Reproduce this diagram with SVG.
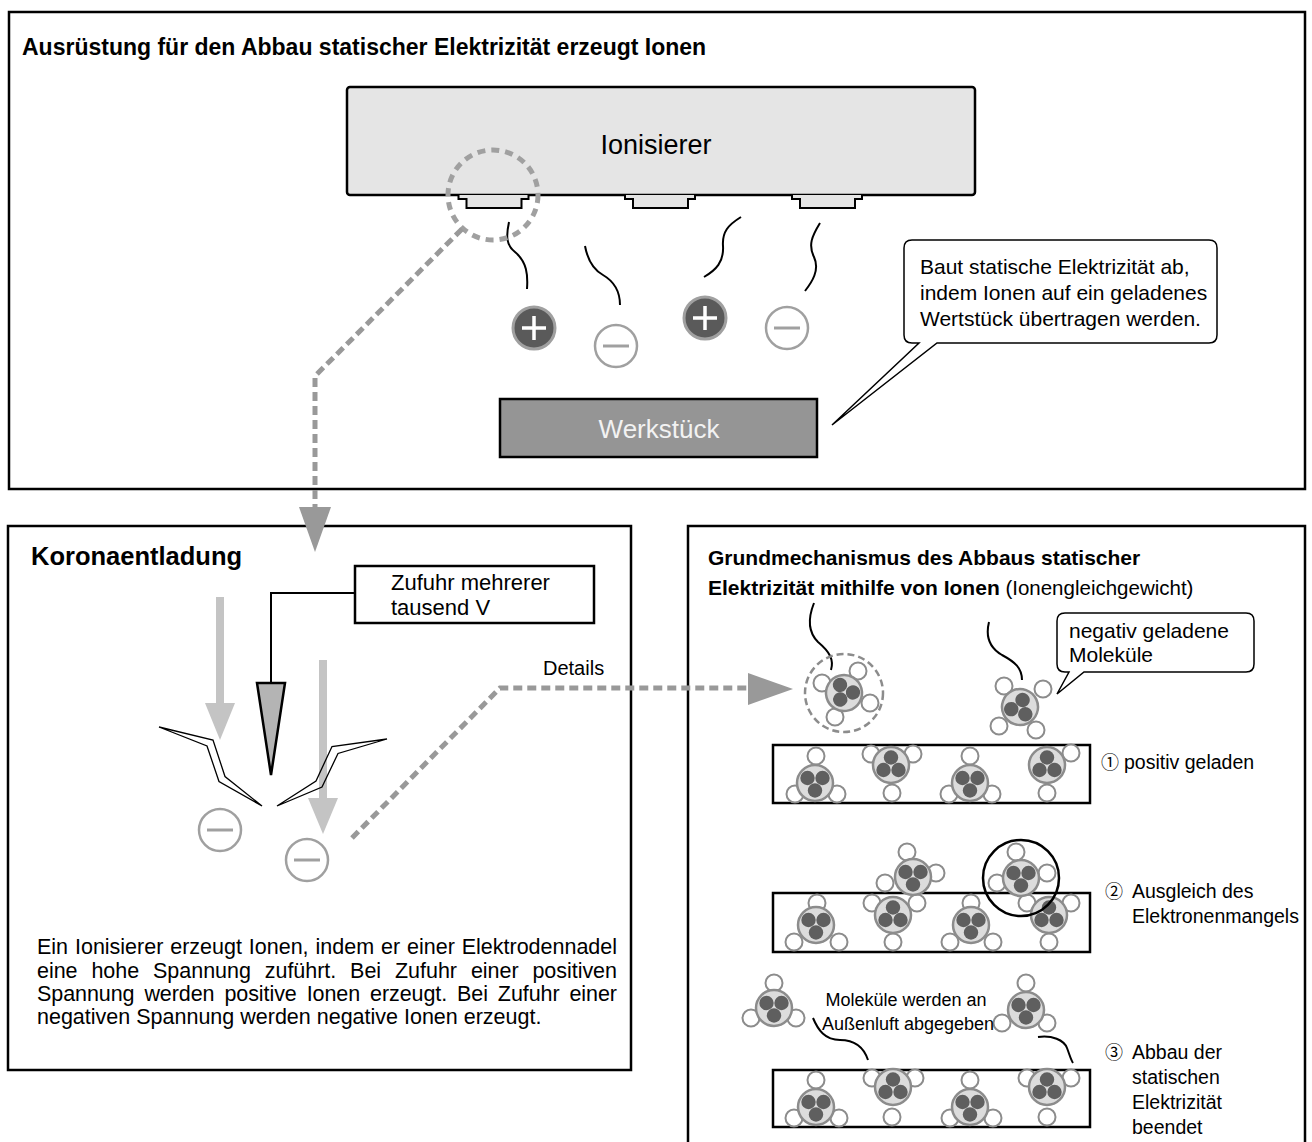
<svg xmlns="http://www.w3.org/2000/svg" width="1312" height="1142" viewBox="0 0 1312 1142">
<defs>
<style>
text{font-family:"Liberation Sans",Arial,Helvetica,sans-serif;fill:#000}
.h{font-weight:bold;font-size:23px}
.hs{font-weight:bold;font-size:21px}
.t{font-size:21px}
.body{font-size:21.5px}
.s{font-size:19.5px}
.xs{font-size:18px}
.num{font-family:"Noto Sans CJK JP","DejaVu Sans",sans-serif;font-size:18px}
.panel{fill:#fff;stroke:#000;stroke-width:2.5}
.box{fill:#fff;stroke:#000;stroke-width:2.5}
.wave{fill:none;stroke:#000;stroke-width:2}
.dash{fill:none;stroke:#999;stroke-width:5;stroke-dasharray:9 5}
.head{fill:#999}
.ionp{fill:#5a5a5a;stroke:#a0a0a0;stroke-width:3}
.ionm{fill:#fff;stroke:#a0a0a0;stroke-width:2.5}
.plus{stroke:#fff;stroke-width:3.5}
.minus{stroke:#a0a0a0;stroke-width:3}
.shell{fill:#dcdcdc;stroke:#8c8c8c;stroke-width:2.5}
.nuc{fill:#5f5f5f}
.el{fill:#fff;stroke:#8c8c8c;stroke-width:2}
.bar{fill:#fff;stroke:#000;stroke-width:2.5}
.bolt{fill:none;stroke:#000;stroke-width:1.3;stroke-linejoin:miter}
.light{fill:#c4c4c4}
.bubble{fill:#fff;stroke:#000;stroke-width:1.5}
.electrode{fill:#e5e5e5;stroke:#000;stroke-width:2}
</style>
<g id="core-a"><circle r="18" class="shell"/><circle cx="-7.5" cy="-5" r="7.2" class="nuc"/><circle cx="7.5" cy="-5" r="7.2" class="nuc"/><circle cx="0" cy="7.5" r="7.2" class="nuc"/></g>
<g id="core-b"><circle r="18" class="shell"/><circle cx="0" cy="-7.5" r="7.2" class="nuc"/><circle cx="-7.5" cy="5" r="7.2" class="nuc"/><circle cx="7.5" cy="5" r="7.2" class="nuc"/></g>
<g id="ion-plus"><circle r="21" class="ionp"/><path d="M-12,0H12M0,-12V12" class="plus"/></g>
<g id="ion-minus"><circle r="21" class="ionm"/><path d="M-13,0H13" class="minus"/></g>
<path id="electrode" d="M-35,195V199H-27V208H28V199H35V195" class="electrode"/>
</defs>

<rect width="1312" height="1142" fill="#fff"/>

<!-- upper panel: ionizer and workpiece -->
<g id="panel-top">
<rect x="9" y="12" width="1296" height="477" class="panel"/>
<text x="22" y="55" class="h">Ausrüstung für den Abbau statischer Elektrizität erzeugt Ionen</text>
</g>

<g id="ionizer">
<rect x="347" y="87" width="628" height="108" rx="3" fill="#e5e5e5" stroke="#000" stroke-width="2.5"/>
<text x="656" y="154" font-size="27" text-anchor="middle">Ionisierer</text>
<use href="#electrode" x="493.5"/>
<use href="#electrode" x="660"/>
<use href="#electrode" x="827"/>
</g>

<g id="ions-top">
<path class="wave" d="M509,222C506,236 506,245 515,252C527,262 528,275 527,289"/>
<path class="wave" d="M585,246C588,262 594,270 603,275C615,282 620,292 620,305"/>
<path class="wave" d="M741,217C728,225 722,232 723,246C724,262 716,270 704,277"/>
<path class="wave" d="M820,223C812,236 808,245 814,257C820,270 812,282 805,291"/>
<use href="#ion-plus" x="534" y="328"/>
<use href="#ion-minus" x="616" y="346"/>
<use href="#ion-plus" x="705" y="318"/>
<use href="#ion-minus" x="787" y="328"/>
</g>

<g id="workpiece">
<rect x="500" y="399" width="317" height="58" fill="#959595" stroke="#000" stroke-width="2.5"/>
<text x="659" y="438" font-size="26" text-anchor="middle" style="fill:#f2f2f2">Werkstück</text>
</g>

<g id="callout-workpiece">
<path class="bubble" d="M912,240H1209Q1217,240 1217,248V335Q1217,343 1209,343H937L832,425L919,343H912Q904,343 904,335V248Q904,240 912,240Z"/>
<text x="920" y="274" class="t">Baut statische Elektrizität ab,</text>
<text x="920" y="300" class="t">indem Ionen auf ein geladenes</text>
<text x="920" y="326" class="t">Wertstück übertragen werden.</text>
</g>

<!-- lower left panel: corona discharge -->
<g id="panel-corona">
<rect x="8" y="526" width="623" height="544" class="panel"/>
<text x="31" y="565" font-weight="bold" font-size="25.5">Koronaentladung</text>
</g>

<g id="supply">
<rect x="355" y="566" width="239" height="57" class="box"/>
<text x="391" y="590" font-size="22">Zufuhr mehrerer</text>
<text x="391" y="615" font-size="22">tausend V</text>
</g>

<g id="needle">
<polyline points="355,593 271,593 271,683" fill="none" stroke="#000" stroke-width="2"/>
<polygon points="257,683 285,683 271,775" fill="#b4b4b4" stroke="#000" stroke-width="2.5"/>
</g>

<g id="discharge">
<rect x="216" y="597" width="8" height="107" class="light"/>
<polygon points="205,703 235,703 220,740" class="light"/>
<polygon class="bolt" points="159,727 213,740 225,776.5 262,806 219,781.5 207,746"/>
<rect x="319" y="660" width="8" height="140" class="light"/>
<polygon points="308,798 338,798 323,834" class="light"/>
<polygon class="bolt" points="387,739 332,746.5 316,781 277,806 322,787 338,753.5"/>
<use href="#ion-minus" x="220" y="830"/>
<use href="#ion-minus" x="307" y="860"/>
</g>

<g id="corona-text">
<text x="37" y="954" class="body" word-spacing="1" textLength="580" lengthAdjust="spacing">Ein Ionisierer erzeugt Ionen, indem er einer Elektrodennadel</text>
<text x="37" y="978" class="body" word-spacing="8" textLength="580" lengthAdjust="spacing">eine hohe Spannung zuführt. Bei Zufuhr einer positiven</text>
<text x="37" y="1001" class="body" word-spacing="4" textLength="580" lengthAdjust="spacing">Spannung werden positive Ionen erzeugt. Bei Zufuhr einer</text>
<text x="37" y="1024" class="body">negativen Spannung werden negative Ionen erzeugt.</text>
</g>

<!-- lower right panel: ion balance mechanism -->
<g id="panel-mechanism">
<rect x="688" y="526" width="617" height="630" class="panel"/>
<text x="708" y="565" class="hs">Grundmechanismus des Abbaus statischer</text>
<text x="708" y="595" class="hs">Elektrizität mithilfe von Ionen<tspan font-weight="normal" font-size="20.5"> (Ionengleichgewicht)</tspan></text>
</g>

<g id="free-molecules">
<path class="wave" d="M814,603C808,618 808,632 818,642C830,652 834,660 831,670"/>
<path class="wave" d="M989,622C985,638 990,648 1002,655C1015,662 1022,668 1022,680"/>
<circle cx="844" cy="693" r="39" fill="none" stroke="#8c8c8c" stroke-width="2.5" stroke-dasharray="7 4"/>
<circle cx="822" cy="683" r="8.5" class="el"/><circle cx="858" cy="671" r="8.5" class="el"/><circle cx="870" cy="703" r="8.5" class="el"/><circle cx="835" cy="717" r="8.5" class="el"/>
<use href="#core-a" transform="translate(844,693) rotate(30)"/>
<circle cx="1004" cy="686" r="8.5" class="el"/><circle cx="1043" cy="689" r="8.5" class="el"/><circle cx="999" cy="726" r="8.5" class="el"/><circle cx="1036" cy="730" r="8.5" class="el"/>
<use href="#core-b" transform="translate(1020,707) rotate(20)"/>
</g>

<g id="callout-molecules">
<path class="bubble" d="M1065,613H1246Q1254,613 1254,621V664Q1254,672 1246,672H1084L1057,694L1069,672H1065Q1057,672 1057,664V621Q1057,613 1065,613Z"/>
<text x="1069" y="638" class="t">negativ geladene</text>
<text x="1069" y="662" class="t">Moleküle</text>
</g>

<g id="stage-1">
<rect x="773" y="745" width="317" height="58" class="bar"/>
<circle cx="816" cy="756" r="8.5" class="el"/><circle cx="795" cy="794" r="8.5" class="el"/><circle cx="837" cy="794" r="8.5" class="el"/>
<use href="#core-a" x="815" y="783"/>
<circle cx="871" cy="754" r="8.5" class="el"/><circle cx="913" cy="754" r="8.5" class="el"/><circle cx="892" cy="793" r="8.5" class="el"/>
<use href="#core-b" x="891" y="765"/>
<circle cx="970" cy="756" r="8.5" class="el"/><circle cx="949" cy="794" r="8.5" class="el"/><circle cx="992" cy="794" r="8.5" class="el"/>
<use href="#core-a" x="970" y="783"/>
<circle cx="1071" cy="753" r="8.5" class="el"/><circle cx="1047" cy="793" r="8.5" class="el"/>
<use href="#core-b" x="1047" y="765"/>
<text x="1101" y="769" class="num">①</text>
<text x="1124" y="769" class="s">positiv geladen</text>
</g>

<g id="stage-2">
<rect x="773" y="893" width="317" height="59" class="bar"/>
<circle cx="817" cy="903" r="8.5" class="el"/><circle cx="794" cy="942" r="8.5" class="el"/><circle cx="839" cy="942" r="8.5" class="el"/>
<use href="#core-a" x="816" y="925"/>
<circle cx="872" cy="903" r="8.5" class="el"/><circle cx="917" cy="903" r="8.5" class="el"/><circle cx="893" cy="942" r="8.5" class="el"/>
<use href="#core-b" x="893" y="915"/>
<circle cx="971" cy="903" r="8.5" class="el"/><circle cx="950" cy="942" r="8.5" class="el"/><circle cx="993" cy="942" r="8.5" class="el"/>
<use href="#core-a" x="971" y="925"/>
<circle cx="1027" cy="903" r="8.5" class="el"/><circle cx="1071" cy="903" r="8.5" class="el"/><circle cx="1049" cy="942" r="8.5" class="el"/>
<use href="#core-b" x="1049" y="915"/>
<circle cx="907" cy="852" r="8.5" class="el"/><circle cx="936" cy="873" r="8.5" class="el"/><circle cx="885" cy="883" r="8.5" class="el"/>
<use href="#core-a" x="913" y="877"/>
<circle cx="1016" cy="852" r="8.5" class="el"/><circle cx="1047" cy="873" r="8.5" class="el"/><circle cx="997" cy="883" r="8.5" class="el"/>
<use href="#core-a" x="1021" y="878"/>
<circle cx="1021" cy="878" r="38" fill="none" stroke="#000" stroke-width="2.5"/>
<text x="1105" y="898" class="num">②</text>
<text x="1132" y="898" class="s">Ausgleich des</text>
<text x="1132" y="923" class="s">Elektronenmangels</text>
</g>

<g id="stage-3">
<rect x="773" y="1070" width="317" height="57" class="bar"/>
<circle cx="816" cy="1080" r="8.5" class="el"/><circle cx="794" cy="1118" r="8.5" class="el"/><circle cx="839" cy="1118" r="8.5" class="el"/>
<use href="#core-a" x="816" y="1107"/>
<circle cx="872" cy="1078" r="8.5" class="el"/><circle cx="915" cy="1078" r="8.5" class="el"/><circle cx="892" cy="1117" r="8.5" class="el"/>
<use href="#core-b" x="893" y="1087"/>
<circle cx="970" cy="1080" r="8.5" class="el"/><circle cx="950" cy="1118" r="8.5" class="el"/><circle cx="993" cy="1118" r="8.5" class="el"/>
<use href="#core-a" x="970" y="1107"/>
<circle cx="1027" cy="1078" r="8.5" class="el"/><circle cx="1071" cy="1078" r="8.5" class="el"/><circle cx="1047" cy="1117" r="8.5" class="el"/>
<use href="#core-b" x="1047" y="1087"/>
<circle cx="774" cy="983" r="8.5" class="el"/><circle cx="751" cy="1018" r="8.5" class="el"/><circle cx="796" cy="1018" r="8.5" class="el"/>
<use href="#core-a" x="774" y="1008"/>
<circle cx="1026" cy="983" r="8.5" class="el"/><circle cx="1002" cy="1023" r="8.5" class="el"/><circle cx="1047" cy="1023" r="8.5" class="el"/>
<use href="#core-a" x="1026" y="1010"/>
<path class="wave" d="M813,1018C818,1030 825,1040 840,1040C855,1040 864,1048 868,1060"/>
<path class="wave" d="M1038,1037C1052,1035 1064,1040 1067,1048C1070,1056 1071,1060 1073,1063"/>
<text x="906" y="1006" class="xs" text-anchor="middle">Moleküle werden an</text>
<text x="908" y="1030" class="xs" text-anchor="middle">Außenluft abgegeben</text>
<text x="1105" y="1059" class="num">③</text>
<text x="1132" y="1059" class="s">Abbau der</text>
<text x="1132" y="1084" class="s">statischen</text>
<text x="1132" y="1109" class="s">Elektrizität</text>
<text x="1132" y="1134" class="s">beendet</text>
</g>

<!-- detail connectors -->
<g id="connectors">
<circle cx="493" cy="195" r="45" fill="none" stroke="#a0a0a0" stroke-width="5" stroke-dasharray="8 6"/>
<path class="dash" d="M462,229L315,376V507"/>
<polygon class="head" points="299,507 331,507 315,552"/>
<path class="dash" d="M352,838L500,688H748"/>
<polygon class="head" points="748,673 748,705 793,689"/>
<text x="543" y="675" font-size="20">Details</text>
</g>
</svg>
